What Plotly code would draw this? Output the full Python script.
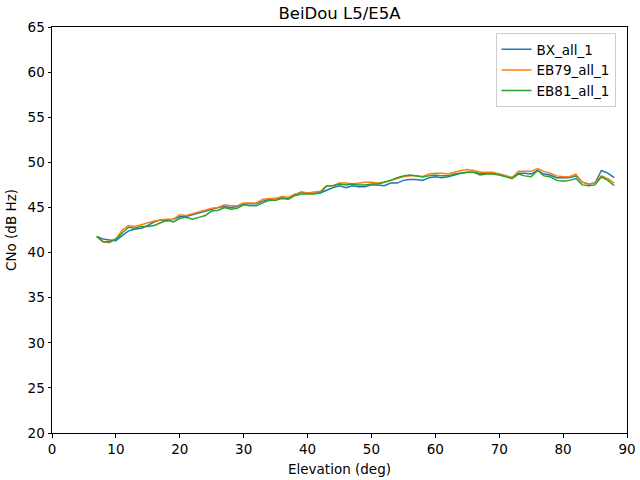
import plotly.graph_objects as go

elevation = list(range(7, 89))

bx_all_1 = [41.8, 41.5, 41.4, 41.3, 41.9, 42.4, 42.6, 42.7, 43.0, 43.4,
            43.6, 43.5, 43.7, 44.0, 44.0, 44.2, 44.4, 44.6, 44.8, 45.0,
            45.1, 45.0, 45.1, 45.4, 45.4, 45.4, 45.7, 45.9, 46.0, 46.1,
            46.0, 46.4, 46.7, 46.6, 46.6, 46.6, 46.9, 47.2, 47.4, 47.2,
            47.4, 47.3, 47.3, 47.5, 47.5, 47.4, 47.7, 47.7, 48.0, 48.1,
            48.1, 48.0, 48.3, 48.4, 48.3, 48.4, 48.6, 48.8, 48.9, 48.9,
            48.8, 48.8, 48.8, 48.7, 48.5, 48.3, 48.8, 48.8, 48.7, 49.1,
            48.7, 48.6, 48.3, 48.3, 48.3, 48.5, 47.8, 47.6, 47.7, 49.1,
            48.8, 48.3]

eb79_all_1 = [41.8, 41.2, 41.1, 41.5, 42.5, 43.0, 42.9, 43.1, 43.3, 43.5,
              43.6, 43.7, 43.7, 44.2, 44.1, 44.3, 44.5, 44.7, 44.9, 45.0,
              45.3, 45.2, 45.2, 45.5, 45.5, 45.5, 45.9, 46.0, 46.0, 46.2,
              46.1, 46.5, 46.6, 46.6, 46.7, 46.8, 47.4, 47.4, 47.7, 47.7,
              47.6, 47.7, 47.8, 47.8, 47.7, 47.8, 48.0, 48.2, 48.4, 48.5,
              48.5, 48.4, 48.7, 48.8, 48.8, 48.7, 48.9, 49.1, 49.2, 49.1,
              48.9, 48.9, 48.9, 48.7, 48.5, 48.3, 49.0, 49.0, 49.0, 49.3,
              49.0, 48.8, 48.5, 48.4, 48.4, 48.7, 47.8, 47.6, 47.7, 48.5,
              48.2, 47.7]

eb81_all_1 = [41.8, 41.2, 41.2, 41.5, 42.2, 42.8, 42.7, 42.9, 42.9, 43.0,
              43.3, 43.6, 43.4, 43.8, 43.9, 43.7, 43.9, 44.1, 44.6, 44.7,
              45.0, 44.8, 44.9, 45.3, 45.2, 45.2, 45.5, 45.8, 45.8, 46.0,
              45.9, 46.3, 46.5, 46.5, 46.5, 46.6, 47.4, 47.4, 47.6, 47.5,
              47.6, 47.5, 47.5, 47.6, 47.6, 47.8, 48.0, 48.3, 48.5, 48.6,
              48.5, 48.4, 48.5, 48.6, 48.5, 48.5, 48.7, 48.8, 48.9, 48.9,
              48.6, 48.7, 48.7, 48.6, 48.4, 48.2, 48.7, 48.5, 48.4, 49.1,
              48.5, 48.4, 48.0, 47.9, 48.0, 48.2, 47.5, 47.4, 47.5, 48.4,
              48.0, 47.4]

series = [("BX_all_1", bx_all_1, "#1f77b4"),
          ("EB79_all_1", eb79_all_1, "#ff7f0e"),
          ("EB81_all_1", eb81_all_1, "#2ca02c")]

fig = go.Figure()
for name, vals, color in series:
    fig.add_trace(go.Scatter(x=elevation, y=vals, mode="lines", name=name,
                             line=dict(color=color, width=1.5)))

axis_common = dict(showgrid=False, zeroline=False, showline=True, mirror=True,
                   linecolor="black", linewidth=1, ticks="outside", ticklen=3.5,
                   tickcolor="black", tickfont=dict(size=13.5, color="black"),
                   automargin=False)

fig.update_layout(
    width=640, height=480,
    margin=dict(l=52, r=13, t=27, b=47, autoexpand=False),
    paper_bgcolor="white", plot_bgcolor="white",
    font=dict(family="DejaVu Sans", color="black"),
    title=dict(text="BeiDou L5/E5A", x=0.5, xref="paper", xanchor="center",
               y=0.972, yanchor="middle", automargin=False,
               font=dict(size=16.5, color="black")),
    xaxis=dict(range=[0, 90], tickvals=list(range(0, 91, 10)),
               title=dict(text="Elevation (deg)", font=dict(size=13.5), standoff=8),
               **axis_common),
    yaxis=dict(range=[20, 65], tickvals=list(range(20, 66, 5)),
               title=dict(text="CNo (dB Hz)", font=dict(size=13.5), standoff=7),
               **axis_common),
    legend=dict(x=0.98, y=0.985, xanchor="right", yanchor="top",
                bgcolor="rgba(255,255,255,0.8)", bordercolor="#cccccc", borderwidth=1,
                font=dict(size=13.5, color="black"), tracegroupgap=0),
    showlegend=True,
)

fig.write_html("out.html", config={"displayModeBar": False},
               post_script="document.body.style.margin='0';")
